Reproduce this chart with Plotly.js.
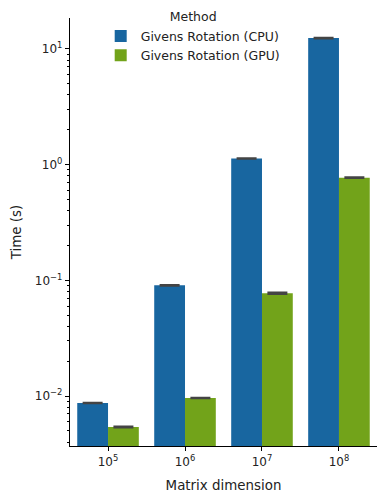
<!DOCTYPE html>
<html>
<head>
<meta charset="utf-8">
<script src="https://cdn.plot.ly/plotly-3.0.1.min.js"></script>
<style>html,body{margin:0;padding:0;background:#fff;}#chart{width:386px;height:503px;}</style>
</head>
<body>
<div id="chart"></div>
<script>
const categories = ["1e5", "1e6", "1e7", "1e8"];
const tickLabels = ["10<sup>5</sup>", "10<sup>6</sup>", "10<sup>7</sup>", "10<sup>8</sup>"];
const cpuTimes = [0.0087, 0.0905, 1.13, 12.4];
const gpuTimes = [0.0054, 0.0096, 0.0772, 0.772];
const cpuErr = [0.00005, 0.0008, 0.008, 0.08];
const gpuErr = [0.00006, 0.00005, 0.0012, 0.005];
const yTickVals = [0.01, 0.1, 1, 10];
const yTickText = ["10<sup>−2</sup>", "10<sup>−1</sup>", "10<sup>0</sup>", "10<sup>1</sup>"];

const errStyle = (arr) => ({type: "data", array: arr, visible: true, color: "#444444", thickness: 2, width: 10});

const data = [
  {type: "bar", name: "Givens Rotation (CPU)", x: categories, y: cpuTimes,
   marker: {color: "#1866a0"}, error_y: errStyle(cpuErr)},
  {type: "bar", name: "Givens Rotation (GPU)", x: categories, y: gpuTimes,
   marker: {color: "#72a31a"}, error_y: errStyle(gpuErr)}
];

const layout = {
  width: 386, height: 503,
  margin: {l: 70, r: 9, t: 18, b: 57, autoexpand: false},
  font: {family: "DejaVu Sans", size: 12, color: "#222"},
  paper_bgcolor: "#fff", plot_bgcolor: "#fff",
  barmode: "group", bargap: 0.2, bargroupgap: 0,
  showlegend: true,
  legend: {
    x: 0.10, y: 1.03, xanchor: "left", yanchor: "top",
    bgcolor: "rgba(0,0,0,0)",
    title: {text: "Method", side: "top center", font: {size: 12.5}},
    font: {size: 12.5}
  },
  xaxis: {
    type: "category",
    tickmode: "array", tickvals: categories, ticktext: tickLabels,
    range: [-0.494, 3.494],
    showline: true, linecolor: "#000", linewidth: 1.2,
    ticks: "outside", ticklen: 4, tickcolor: "#000",
    tickfont: {size: 12},
    showgrid: false, zeroline: false,
    title: {text: "Matrix dimension", standoff: 13, font: {size: 13.4}}
  },
  yaxis: {
    type: "log",
    range: [Math.log10(0.0037), Math.log10(18.5)],
    tickmode: "array", tickvals: yTickVals, ticktext: yTickText,
    showline: true, linecolor: "#000", linewidth: 1.2,
    ticks: "outside", ticklen: 4, tickcolor: "#000",
    tickfont: {size: 12},
    minor: {ticks: "outside", ticklen: 2, tickcolor: "#000", dtick: "D1", showgrid: false},
    showgrid: false, zeroline: false,
    title: {text: "Time (s)", standoff: 10, font: {size: 13.4}}
  }
};

Plotly.newPlot("chart", data, layout, {displayModeBar: false, staticPlot: true});
</script>
</body>
</html>
